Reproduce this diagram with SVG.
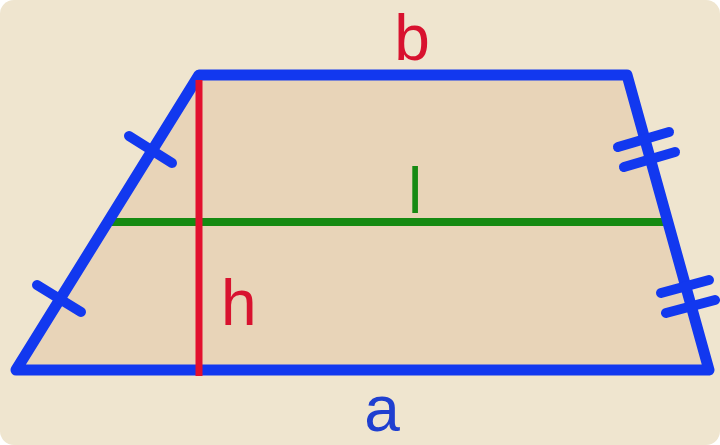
<svg xmlns="http://www.w3.org/2000/svg" width="720" height="445" viewBox="0 0 720 445">
<style>
.lbl{font-family:"Liberation Sans",Arial,sans-serif;font-size:64px}
.edge{fill:none;stroke:#1238ef;stroke-width:11;stroke-linecap:round;stroke-linejoin:round}
.tick{stroke:#1238ef;stroke-width:10;stroke-linecap:round}
</style>
<rect x="0" y="0" width="720" height="445" fill="#ffffff"/>
<rect x="0" y="0" width="720" height="445" rx="14" fill="#efe5cf"/>
<g id="trapezoid-fill">
<polygon points="16,370 199,75 627,75 709,370" fill="#e8d4b8"/>
</g>
<g id="midline">
<line x1="108" y1="222" x2="668" y2="222" stroke="#168a12" stroke-width="8"/>
</g>
<g id="trapezoid">
<polygon class="edge" points="16,370 199,75 627,75 709,370"/>
<line class="tick" x1="129" y1="136" x2="172" y2="163"/>
<line class="tick" x1="37" y1="285" x2="81" y2="312"/>
<line class="tick" x1="618" y1="147" x2="669" y2="132"/>
<line class="tick" x1="624" y1="167" x2="675" y2="152"/>
<line class="tick" x1="661" y1="293" x2="709" y2="280"/>
<line class="tick" x1="666" y1="313" x2="715" y2="300"/>
</g>
<g id="height">
<line x1="199" y1="80" x2="199" y2="376" stroke="#e2102e" stroke-width="7"/>
</g>
<g id="labels">
<text class="lbl" x="412" y="60" text-anchor="middle" fill="#d8122f">b</text>
<text class="lbl" x="408" y="213" fill="#168a12">l</text>
<text class="lbl" x="221" y="325" fill="#d8122f">h</text>
<text class="lbl" x="382" y="431" text-anchor="middle" fill="#1f3fd0">a</text>
</g>
</svg>
